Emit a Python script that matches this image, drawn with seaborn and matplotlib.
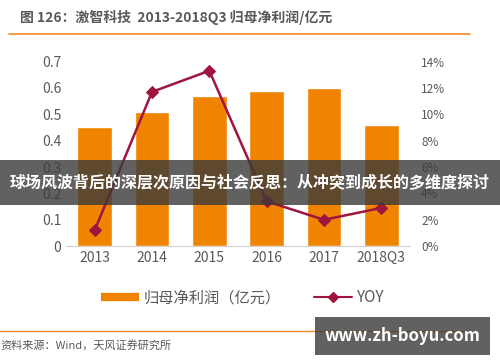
import pandas as pd
import seaborn as sns
import matplotlib
matplotlib.use('Agg')
import matplotlib.pyplot as plt
from matplotlib.lines import Line2D
from matplotlib.patches import Patch

years = ['2013', '2014', '2015', '2016', '2017', '2018Q3']
profit = [0.45, 0.51, 0.57, 0.59, 0.60, 0.46]      # 归母净利润 亿元
yoy = [1.2, 11.7, 13.3, 3.4, 2.0, 2.9]              # %

sns.set_style('white')
plt.rcParams['font.family'] = ['Noto Sans CJK SC', 'DejaVu Sans']

df = pd.DataFrame({'year': years, 'profit': profit, 'yoy': yoy})
df['pos'] = range(len(df))

orange = '#F08300'
red = '#A0153E'
gray = '#595959'

fig = plt.figure(figsize=(5, 3.62), dpi=100)
ax = fig.add_axes([0.132, 0.32, 0.688, 0.51])

sns.barplot(data=df, x='year', y='profit', color=orange, width=0.6,
            saturation=1, ax=ax)
ax.set_ylim(0, 0.7)
ax.set_xlim(-0.5, 5.5)
ax.set_yticks([0, 0.1, 0.2, 0.3, 0.4, 0.5, 0.6, 0.7])
ax.set_yticklabels(['0', '0.1', '0.2', '0.3', '0.4', '0.5', '0.6', '0.7'])
ax.set_xlabel('')
ax.set_ylabel('')
ax.tick_params(axis='both', labelsize=10, labelcolor=gray, length=0)
for s in ['top', 'right', 'left']:
    ax.spines[s].set_visible(False)
ax.spines['bottom'].set_color('#d0d0d0')

ax2 = ax.twinx()
sns.lineplot(data=df, x='pos', y='yoy', color=red, marker='D', markersize=6,
             markeredgecolor=red, linewidth=1.8, ax=ax2)
ax2.set_ylim(0, 14)
ax2.set_yticks(range(0, 15, 2))
ax2.set_yticklabels([f'{v}%' for v in range(0, 15, 2)])
ax2.set_ylabel('')
ax2.tick_params(axis='y', labelsize=8.5, labelcolor=gray, length=0, pad=8)
for s in ax2.spines.values():
    s.set_visible(False)
ax.set_xlim(-0.5, 5.5)
ax2.set_xlim(-0.5, 5.5)

handles = [Line2D([0], [0], color=orange, linewidth=6, solid_capstyle='butt'),
           Line2D([0], [0], color=red, marker='D', markersize=5, linewidth=1.5)]
fig.legend(handles, ['归母净利润（亿元）', 'YOY'], loc='center',
           bbox_to_anchor=(0.485, 0.177), ncol=2, frameon=False, fontsize=11,
           labelcolor=gray, handlelength=2.5, handletextpad=0.3,
           columnspacing=2.2)

fig.text(0.04, 0.953, '图 126：激智科技  2013-2018Q3 归母净利润/亿元',
         fontsize=10, fontweight='bold', color=gray, va='center')
fig.add_artist(Line2D([0.018, 0.94], [0.906, 0.906], color='#F5862A', linewidth=1.2))
fig.add_artist(Line2D([0.0, 0.94], [0.086, 0.086], color='#F5862A', linewidth=1.0))
fig.text(0.0, 0.046, '资料来源：Wind，天风证券研究所', fontsize=8, color=gray, va='center')

# overlays on the picture
fig.text(0.5, 0.495, '球场风波背后的深层次原因与社会反思：从冲突到成长的多维度探讨',
         fontsize=11.5, fontweight='bold', color='white', ha='center', va='center',
         bbox=dict(boxstyle='square,pad=0.9', facecolor='#3a3a3a', alpha=0.8,
                   edgecolor='none'))
fig.text(0.805, 0.072, 'www.zh-boyu.com', fontsize=12, fontweight='bold',
         color='white', ha='center', va='center',
         bbox=dict(boxstyle='square,pad=0.6', facecolor='#3a3a3a', alpha=0.8,
                   edgecolor='none'))

fig.savefig('out.png', dpi=100)
